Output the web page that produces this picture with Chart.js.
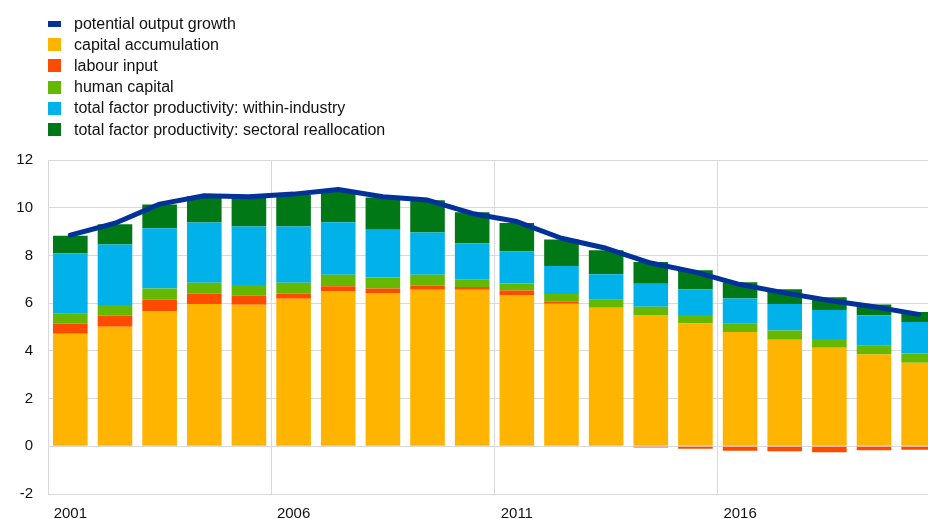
<!DOCTYPE html>
<html>
<head>
<meta charset="utf-8">
<script src="https://cdn.jsdelivr.net/npm/chart.js@4/dist/chart.umd.min.js"></script>
<style>
  html, body { margin: 0; padding: 0; background: #fff; overflow: hidden; }
  #wrap { position: relative; width: 928px; height: 519px; overflow: hidden; }
  #chart { position: absolute; left: 0; top: 0; }
  #legend { position: absolute; left: 48px; top: 13px; font-family: "Liberation Sans", Arial, sans-serif; font-size: 16px; color: #111; }
  .item { height: 21.2px; display: flex; align-items: center; }
  .sw { width: 13px; height: 13px; margin-right: 13px; flex: none; }
  .ln { width: 13px; height: 6px; margin-right: 13px; flex: none; }
</style>
</head>
<body>
<div id="wrap">
  <canvas id="chart" width="941" height="519"></canvas>
  <div id="legend"></div>
</div>
<script>
const years = ['2001','2002','2003','2004','2005','2006','2007','2008','2009','2010',
               '2011','2012','2013','2014','2015','2016','2017','2018','2019','2020'];
const potentialOutput = [8.85, 9.35, 10.15, 10.5, 10.46, 10.57, 10.76, 10.46, 10.32, 9.76,
                         9.42, 8.72, 8.3, 7.68, 7.3, 6.78, 6.43, 6.11, 5.85, 5.53];
const capitalAccumulation = [4.72, 5.01, 5.65, 5.96, 5.93, 6.18, 6.49, 6.40, 6.56, 6.56,
                             6.32, 5.97, 5.81, 5.50, 5.15, 4.79, 4.47, 4.13, 3.85, 3.50];
const labourInput = [0.42, 0.46, 0.49, 0.44, 0.38, 0.22, 0.22, 0.21, 0.18, 0.12,
                     0.21, 0.10, 0.00, -0.05, -0.10, -0.19, -0.21, -0.25, -0.17, -0.15];
const humanCapital = [0.42, 0.45, 0.47, 0.46, 0.45, 0.46, 0.48, 0.47, 0.45, 0.32,
                      0.29, 0.31, 0.33, 0.35, 0.35, 0.35, 0.38, 0.37, 0.36, 0.39];
const tfpWithin = [2.52, 2.54, 2.53, 2.52, 2.45, 2.35, 2.20, 2.00, 1.77, 1.51,
                   1.35, 1.18, 1.07, 0.96, 1.07, 1.05, 1.11, 1.21, 1.28, 1.32];
const tfpReallocation = [0.74, 0.85, 0.99, 1.11, 1.22, 1.32, 1.33, 1.35, 1.35, 1.30,
                         1.19, 1.11, 1.01, 0.91, 0.81, 0.69, 0.62, 0.54, 0.45, 0.42];
const yTicks = [-2, 0, 2, 4, 6, 8, 10, 12];

const seriesNames = ['potential output growth', 'capital accumulation', 'labour input', 'human capital',
                     'total factor productivity: within-industry', 'total factor productivity: sectoral reallocation'];
const seriesColors = ['#003299', '#FFB400', '#FF4B00', '#65B800', '#00B1EA', '#007816'];

const barSeries = [capitalAccumulation, labourInput, humanCapital, tfpWithin, tfpReallocation];
const datasets = barSeries.map((d, i) => ({
  type: 'bar',
  label: seriesNames[i + 1],
  data: d,
  backgroundColor: seriesColors[i + 1],
  borderWidth: 0,
  stack: 'bars',
  order: 1,
  barPercentage: 0.775,
  categoryPercentage: 1.0
}));
datasets.push({
  type: 'line',
  label: seriesNames[0],
  data: potentialOutput,
  borderColor: seriesColors[0],
  backgroundColor: seriesColors[0],
  borderWidth: 5,
  pointRadius: 0,
  tension: 0,
  stack: 'line',
  order: 0,
  borderCapStyle: 'round',
  borderJoinStyle: 'round'
});

// HTML legend
const legend = document.getElementById('legend');
seriesNames.forEach((n, i) => {
  const row = document.createElement('div');
  row.className = 'item';
  const sw = document.createElement('span');
  sw.className = i === 0 ? 'ln' : 'sw';
  sw.style.background = seriesColors[i];
  const tx = document.createElement('span');
  tx.textContent = n;
  row.appendChild(sw);
  row.appendChild(tx);
  legend.appendChild(row);
});

const grid = '#d9d9d9';
new Chart(document.getElementById('chart'), {
  data: { labels: years, datasets },
  options: {
    responsive: false,
    animation: false,
    devicePixelRatio: 1,
    layout: { padding: { top: 160, left: 0, right: 0, bottom: 0 } },
    plugins: { legend: { display: false }, tooltip: { enabled: false } },
    scales: {
      x: {
        stacked: true,
        offset: true,
        grid: {
          offset: true,
          drawTicks: false,
          color: (ctx) => (ctx.index % 5 === 0 ? grid : 'rgba(0,0,0,0)'),
          lineWidth: 1
        },
        border: { color: grid },
        ticks: {
          autoSkip: false,
          maxRotation: 0,
          padding: 11,
          color: '#111',
          font: { family: '"Liberation Sans", Arial, sans-serif', size: 15 },
          callback: function (v, i) { return i % 5 === 0 ? this.getLabelForValue(v) : ''; }
        },
        afterFit: (s) => { s.height = 25; }
      },
      y: {
        stacked: true,
        min: yTicks[0],
        max: yTicks[yTicks.length - 1],
        afterBuildTicks: (s) => { s.ticks = yTicks.map(v => ({ value: v })); },
        grid: { color: grid, drawTicks: false },
        border: { color: grid },
        ticks: {
          padding: 15,
          color: '#111',
          font: { family: '"Liberation Sans", Arial, sans-serif', size: 15 }
        },
        afterFit: (s) => { s.width = 48; }
      }
    }
  }
});
</script>
</body>
</html>
